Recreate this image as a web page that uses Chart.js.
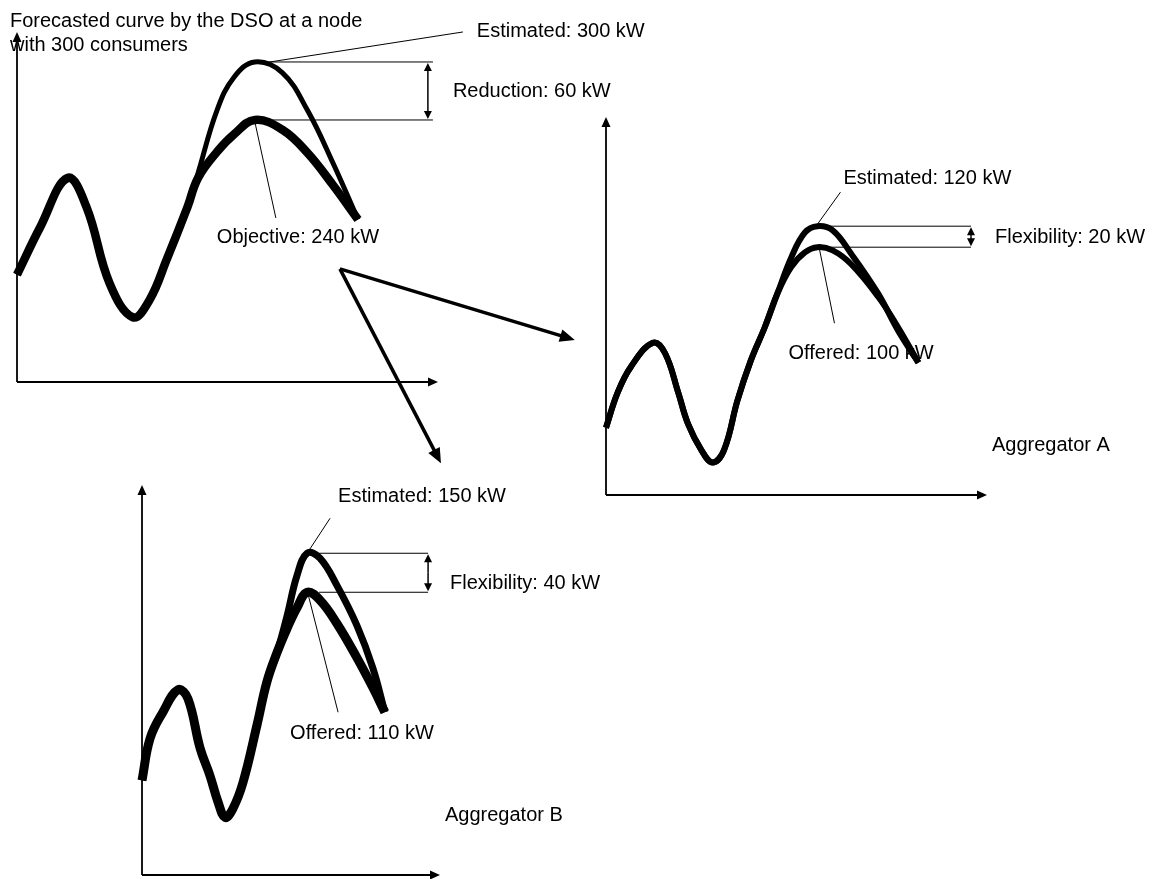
<!DOCTYPE html>
<html>
<head>
<meta charset="utf-8">
<script src="https://cdn.jsdelivr.net/npm/chart.js@4.4.1/dist/chart.umd.min.js"></script>
<style>
  html, body { margin: 0; padding: 0; background: #fff; }
  #wrap { position: relative; width: 1167px; height: 879px; }
  #wrap canvas { position: absolute; left: 0; top: 0; }
</style>
</head>
<body>
<div id="wrap">
  <canvas id="dsoChart" width="1167" height="879"></canvas>
  <canvas id="aggAChart" width="1167" height="879"></canvas>
  <canvas id="aggBChart" width="1167" height="879"></canvas>
</div>
<script>
// load curves in kW, time axis 0-100 (share of the plotted day)
const dsoTime = [0, 5.5, 12, 16.5, 22, 27.5, 31.5, 35.5, 40.5, 43, 47.5, 51.5, 56.5, 63, 69, 75, 81];
const dsoEstimated = [80, 129, 180, 150, 71, 36, 54, 95, 150, 185, 250, 284, 300, 289, 250, 196, 137];
const dsoObjective = [80, 129, 180, 150, 71, 36, 54, 95, 150, 180, 207, 225, 240, 230, 206, 173, 137];

const aggATime = [0, 3, 6.5, 12.3, 15.5, 19, 21.5, 25, 28, 31, 34.5, 38, 41.7, 45, 48.6, 52.2, 55.5, 59.5, 64.3, 71.4, 76.6, 82];
const aggAEstimated = [-72, -39, -14, 9, -1, -39, -68, -93, -105, -93, -46, -8, 24, 56, 90, 114, 120, 116, 94, 56, 21, -10];
const aggAOffered = [-72, -39, -14, 9, -1, -39, -68, -93, -105, -93, -46, -8, 24, 56, 81, 95, 100, 97, 84, 53, 24, -10];

const aggBTime = [0, 2.7, 7, 12.1, 15.4, 19.5, 22.8, 25.5, 27.9, 30.5, 33.9, 38.6, 41.9, 45.3, 48.7, 52, 55.4, 59.7, 65.4, 72.1, 77.5, 81.5];
const aggBEstimated = [-83, -40, -13, 10, 1, -50, -78, -105, -121, -112, -85, -26, 18, 48, 86, 127, 150, 145, 117, 76, 32, -13];
const aggBOffered = [-83, -40, -13, 10, 1, -50, -78, -105, -121, -112, -85, -26, 18, 48, 73, 94, 110, 102, 78, 43, 12, -13];

const FONT = '20px "Liberation Sans", Arial, sans-serif';

function line(ctx, x1, y1, x2, y2, w) {
  ctx.lineWidth = w;
  ctx.beginPath();
  ctx.moveTo(x1, y1);
  ctx.lineTo(x2, y2);
  ctx.stroke();
}

function head(ctx, x1, y1, x2, y2, len, half) {
  const a = Math.atan2(y2 - y1, x2 - x1);
  const bx = x2 - len * Math.cos(a), by = y2 - len * Math.sin(a);
  ctx.beginPath();
  ctx.moveTo(x2, y2);
  ctx.lineTo(bx + half * Math.sin(a), by - half * Math.cos(a));
  ctx.lineTo(bx - half * Math.sin(a), by + half * Math.cos(a));
  ctx.closePath();
  ctx.fill();
}

function arrow(ctx, x1, y1, x2, y2, w, len, half) {
  const a = Math.atan2(y2 - y1, x2 - x1);
  line(ctx, x1, y1, x2 - len * 0.7 * Math.cos(a), y2 - len * 0.7 * Math.sin(a), w);
  head(ctx, x1, y1, x2, y2, len, half);
}

function text(ctx, s, x, y) {
  ctx.font = FONT;
  ctx.textAlign = 'left';
  ctx.textBaseline = 'middle';
  ctx.fillText(s, x, y);
}

const diagram = {
  id: 'diagram',
  beforeDatasetsDraw(chart) {
    const {ctx, chartArea: a} = chart;
    ctx.save();
    ctx.strokeStyle = '#000';
    ctx.fillStyle = '#000';
    arrow(ctx, a.left, a.bottom, a.left, a.top, 1.8, 10, 4.5);
    arrow(ctx, a.left, a.bottom, a.right, a.bottom, 1.8, 10, 4.5);
    ctx.restore();
  },
  afterDatasetsDraw(chart, args, o) {
    const {ctx, chartArea: a, scales: {x, y}} = chart;
    const [up, low] = chart.data.datasets;
    const top = d => d.data.reduce((m, p) => (p.y > m.y ? p : m));
    const pu = top(up), pl = top(low);
    const ux = x.getPixelForValue(pu.x), uy = y.getPixelForValue(pu.y);
    const lx = x.getPixelForValue(pl.x), ly = y.getPixelForValue(pl.y);
    const endX = x.getPixelForValue(o.refEnd);
    const ax = x.getPixelForValue(o.arrowAt);

    ctx.save();
    ctx.strokeStyle = '#000';
    ctx.fillStyle = '#000';
    // peak reference lines
    line(ctx, ux + 12, uy, endX, uy, 1);
    line(ctx, lx + 12, ly, endX, ly, 1);
    // double arrow between the two peaks
    const mid = (uy + ly) / 2;
    arrow(ctx, ax, mid, ax, uy + 1, 1.5, 8, 4);
    arrow(ctx, ax, mid, ax, ly - 1, 1.5, 8, 4);
    text(ctx, o.spanName + ': ' + (pu.y - pl.y) + ' kW', ax + o.spanDx, mid + o.spanDy);
    // leaders to labels
    const L = o.upLeader, M = o.lowLeader;
    line(ctx, ux + L[0], uy + L[1], ux + L[2], uy + L[3], 1);
    text(ctx, up.label + ': ' + pu.y + ' kW', ux + o.upText[0], uy + o.upText[1]);
    line(ctx, lx + M[0], ly + M[1], lx + M[2], ly + M[3], 1);
    text(ctx, low.label + ': ' + pl.y + ' kW', lx + o.lowText[0], ly + o.lowText[1]);
    // free captions relative to the axis box
    (o.captions || []).forEach(c => text(ctx, c.text, a.left + c.dx, a.top + c.dy));
    // flow arrows, in this chart's data units
    (o.flows || []).forEach(f => {
      arrow(ctx, x.getPixelForValue(f[0]), y.getPixelForValue(f[1]),
        x.getPixelForValue(f[2]), y.getPixelForValue(f[3]), 3.5, 15, 6.5);
    });
    ctx.restore();
  }
};

function series(label, time, values, width) {
  return {
    label: label,
    data: time.map((t, i) => ({x: t, y: values[i]})),
    borderColor: '#000',
    borderWidth: width,
    pointRadius: 0,
    fill: false,
    clip: false,
    tension: 0.4,
    borderCapStyle: 'butt',
    borderJoinStyle: 'round',
  };
}

function createPanel(id, datasets, yMin, yMax, padding, notes) {
  const ctx = document.getElementById(id).getContext('2d');
  return new Chart(ctx, {
    type: 'line',
    data: {datasets: datasets},
    options: {
      responsive: false,
      animation: false,
      layout: {padding: padding},
      scales: {
        x: {type: 'linear', display: false, min: 0, max: 100},
        y: {type: 'linear', display: false, min: yMin, max: yMax},
      },
      plugins: {
        legend: {display: false},
        tooltip: {enabled: false},
        diagram: notes,
      },
    },
    plugins: [diagram],
  });
}

createPanel('dsoChart', [
  series('Estimated', dsoTime, dsoEstimated, 5),
  series('Objective', dsoTime, dsoObjective, 8.5),
], -31, 331, {left: 17, top: 32, right: 729, bottom: 497}, {
  refEnd: 98.8, arrowAt: 97.6, spanName: 'Reduction', spanDx: 25, spanDy: 1,
  upLeader: [15, 0, 208, -30], upText: [222, -30],
  lowLeader: [0, 2, 21, 98], lowText: [-38, 118],
  captions: [
    {text: 'Forecasted curve by the DSO at a node', dx: -7, dy: -11},
    {text: 'with 300 consumers', dx: -7, dy: 13},
  ],
  flows: [[76.7, 86, 132.5, 12.5], [76.7, 86, 100.7, -115]],
});

createPanel('aggAChart', [
  series('Estimated', aggATime, aggAEstimated, 6),
  series('Offered', aggATime, aggAOffered, 6),
], -136, 224, {left: 606, top: 117, right: 180, bottom: 384}, {
  refEnd: 95.8, arrowAt: 95.8, spanName: 'Flexibility', spanDx: 24, spanDy: 1,
  upLeader: [0, -2, 23, -34], upText: [26, -48],
  lowLeader: [2, 2, 17, 76], lowText: [-29, 106],
  captions: [{text: 'Aggregator A', dx: 386, dy: 328}],
});

createPanel('aggBChart', [
  series('Estimated', aggBTime, aggBEstimated, 7),
  series('Offered', aggBTime, aggBOffered, 9),
], -180, 220, {left: 142, top: 485, right: 727, bottom: 4}, {
  refEnd: 96, arrowAt: 96, spanName: 'Flexibility', spanDx: 22, spanDy: 11,
  upLeader: [2, -3, 23, -35], upText: [31, -57],
  lowLeader: [1, 2, 31, 120], lowText: [-17, 141],
  captions: [{text: 'Aggregator B', dx: 303, dy: 330}],
});
</script>
</body>
</html>
